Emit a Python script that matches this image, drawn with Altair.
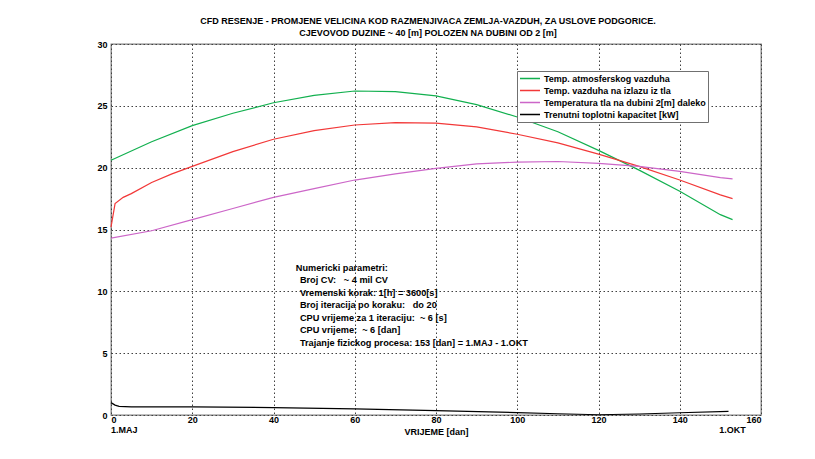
import altair as alt
import pandas as pd

# ---- data ----
series_names = [
    "Temp. atmosferskog vazduha",
    "Temp. vazduha na izlazu iz tla",
    "Temperatura tla na dubini 2[m] daleko",
    "Trenutni toplotni kapacitet [kW]",
]
series_colors = ["#12b04f", "#f23838", "#cc66c8", "#000000"]

air_x = [0, 10, 20, 30, 40, 50, 60, 70, 80, 90, 100, 110, 120, 130, 140, 150, 153]
air_y = [20.6, 22.1, 23.4, 24.4, 25.25, 25.85, 26.2, 26.15, 25.8, 25.1, 24.1, 22.9, 21.4, 19.8, 18.1, 16.2, 15.8]

out_x = [0, 1, 3, 5, 10, 15, 20, 30, 40, 50, 60, 70, 80, 90, 100, 110, 120, 130, 140, 150, 153]
out_y = [15.2, 17.1, 17.6, 17.9, 18.8, 19.5, 20.1, 21.3, 22.3, 23.0, 23.45, 23.65, 23.6, 23.3, 22.7, 22.0, 21.1, 20.1, 19.0, 17.8, 17.5]

soil_x = [0, 10, 20, 30, 40, 50, 60, 70, 80, 90, 100, 110, 120, 130, 140, 150, 153]
soil_y = [14.3, 14.9, 15.8, 16.7, 17.6, 18.3, 19.0, 19.5, 19.95, 20.3, 20.45, 20.5, 20.35, 20.1, 19.7, 19.2, 19.1]

cap_x = [0, 1, 2, 5, 20, 40, 60, 80, 100, 110, 120, 130, 140, 152]
cap_y = [1.0, 0.8, 0.7, 0.65, 0.65, 0.6, 0.5, 0.35, 0.2, 0.1, 0.02, 0.08, 0.18, 0.3]

x_ticks = [0, 20, 40, 60, 80, 100, 120, 140, 160]
y_ticks = [0, 5, 10, 15, 20, 25, 30]

NB = "\u00a0"
title_lines = [
    "CFD RESENJE - PROMJENE VELICINA KOD RAZMENJIVACA ZEMLJA-VAZDUH, ZA USLOVE PODGORICE.",
    "CJEVOVOD DUZINE ~ 40 [m] POLOZEN NA DUBINI OD 2 [m]" + NB * 8,
]
note_header = "Numericki parametri:"
note_lines = [
    "Broj CV:" + NB * 3 + "~ 4 mil CV",
    "Vremenski korak: 1[h] = 3600[s]",
    "Broj iteracija po koraku:" + NB * 3 + "do 20",
    "CPU vrijeme za 1 iteraciju:" + NB * 2 + "~ 6 [s]",
    "CPU vrijeme:" + NB * 2 + "~ 6 [dan]",
    "Trajanje fizickog procesa: 153 [dan] = 1.MAJ - 1.OKT",
]
date_labels = ["1.MAJ", "1.OKT"]
date_x = [0, 153]

# ---- build tables ----
rows = []
for name, xs, ys in zip(series_names, [air_x, out_x, soil_x, cap_x], [air_y, out_y, soil_y, cap_y]):
    for i, (a, b) in enumerate(zip(xs, ys)):
        rows.append({"series": name, "t": a, "v": b, "i": i})
df = pd.DataFrame(rows)

FONT = "Liberation Sans"

xscale = alt.Scale(domain=[0, 160], nice=False, zero=False)
yscale = alt.Scale(domain=[0, 30], nice=False, zero=False)

lines = alt.Chart(df).mark_line(strokeWidth=1.2).encode(
    x=alt.X("t:Q", scale=xscale,
            axis=alt.Axis(values=x_ticks, title="VRIJEME [dan]")),
    y=alt.Y("v:Q", scale=yscale, axis=alt.Axis(values=y_ticks, title=None)),
    color=alt.Color("series:N",
                    scale=alt.Scale(domain=series_names, range=series_colors),
                    legend=alt.Legend(title=None, orient="none", legendX=406, legendY=27,
                                      symbolType="stroke", symbolSize=400, symbolStrokeWidth=1.3,
                                      clipHeight=11, rowPadding=1, padding=2,
                                      labelFontSize=9, labelFont=FONT, labelColor="#000",
                                      labelFontWeight="bold", labelOffset=3, labelLimit=400,
                                      fillColor="white", strokeColor="#707070")),
    order="i:Q",
)

hdr_df = pd.DataFrame({"t": [45.5], "v": [12.2], "txt": [note_header]})
header = alt.Chart(hdr_df).mark_text(
    align="left", baseline="top", font=FONT, fontSize=9.2, fontWeight="bold", color="#000"
).encode(x=alt.X("t:Q", scale=xscale), y=alt.Y("v:Q", scale=yscale), text="txt:N")

body_df = pd.DataFrame({"t": [46.5], "v": [11.2], "txt": ["\n".join(note_lines)]})
body = alt.Chart(body_df).mark_text(
    align="left", baseline="top", font=FONT, fontSize=9.2, fontWeight="bold", color="#000",
    lineBreak="\n", lineHeight=12.5
).encode(x=alt.X("t:Q", scale=xscale), y=alt.Y("v:Q", scale=yscale), text="txt:N")

dates_df = pd.DataFrame({"t": date_x, "v": [-1.2, -1.2], "txt": date_labels})
dates_l = alt.Chart(dates_df.iloc[[0]]).mark_text(
    align="left", baseline="middle", font=FONT, fontSize=9, fontWeight="bold", color="#000", clip=False
).encode(x=alt.X("t:Q", scale=xscale), y=alt.Y("v:Q", scale=yscale), text="txt:N")
dates_r = alt.Chart(dates_df.iloc[[1]]).mark_text(
    align="center", baseline="middle", font=FONT, fontSize=9, fontWeight="bold", color="#000", clip=False
).encode(x=alt.X("t:Q", scale=xscale), y=alt.Y("v:Q", scale=yscale), text="txt:N")

chart = alt.layer(lines, header, body, dates_l, dates_r).properties(
    width=650, height=371,
    background="white",
    autosize=alt.AutoSizeParams(type="none"),
    padding={"left": 103, "top": 36, "right": 40, "bottom": 40},
    title=alt.TitleParams(text=title_lines, font=FONT, fontSize=9, fontWeight="bold",
                          color="#000", anchor="middle", frame="group", offset=2,
                          lineHeight=12, dx=-8),
).configure_view(
    stroke="#808080", strokeWidth=1.3
).configure_axis(
    domain=False, ticks=False, tickSize=0, grid=True, gridColor="#404040", gridDash=[1.5, 2.5],
    gridWidth=1, gridOpacity=1, labelFont=FONT, labelFontSize=9, labelFontWeight="bold",
    labelColor="#000", titleFont=FONT, titleFontSize=9, titleFontWeight="bold",
    titleColor="#000",
).configure_axisX(
    labelPadding=0, titlePadding=3
).configure_axisY(
    labelPadding=4
)

chart.save("out.html", embed_options={"renderer": "svg", "actions": False})
